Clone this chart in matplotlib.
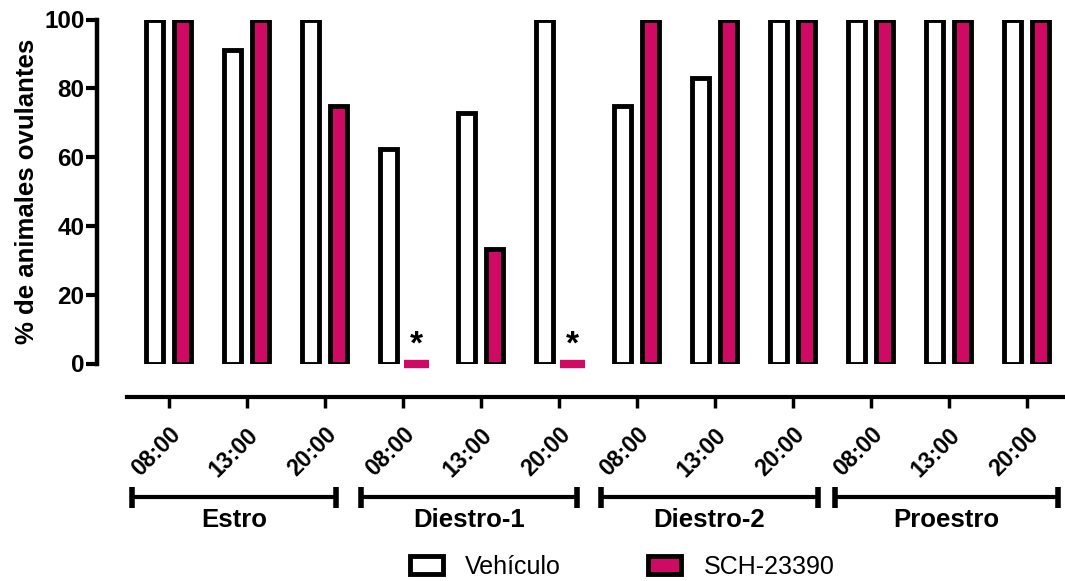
import matplotlib.pyplot as plt
import matplotlib.transforms as mtransforms
from matplotlib.patches import Patch
import numpy as np

plt.rcParams["font.family"] = ["Liberation Sans", "DejaVu Sans"]

stages = ["Estro", "Diestro-1", "Diestro-2", "Proestro"]
hours = ["08:00", "13:00", "20:00"]
vehiculo = [100, 91, 100, 62.5, 72.7, 100, 75, 83, 100, 100, 100, 100]
sch = [100, 100, 75, 0, 33.3, 0, 100, 100, 100, 100, 100, 100]
significant = [False, False, False, True, False, True,
               False, False, False, False, False, False]

pink = "#CE0A64"
lw = 3.5

fig = plt.figure(figsize=(10.65, 5.81), dpi=100)
ax = fig.add_axes([97 / 1065, 217.5 / 581, 968 / 1065, 344 / 581])

x = np.arange(len(vehiculo))
width = 0.22
off = 0.18

ax.bar(x - off, vehiculo, width, color="white", edgecolor="black",
       linewidth=lw, zorder=3)
sch_edges = [pink if v == 0 else "black" for v in sch]
ax.bar(x + off, sch, width, color=pink, edgecolor=sch_edges,
       linewidth=lw, zorder=3)

# zero-height bars show up as a flat coloured strip
for xi, v in zip(x, sch):
    if v == 0:
        ax.plot([xi + off - 0.16, xi + off + 0.16], [v, v], color=pink, lw=6,
                solid_capstyle="butt", zorder=4, clip_on=False)

for xi, v, sig in zip(x, sch, significant):
    if sig:
        ax.annotate("*", (xi + off, v), xytext=(0, 2), textcoords="offset points",
                    ha="center", va="bottom", fontsize=24, fontweight="bold")

ax.set_xlim(-0.92, 11.49)
ax.set_ylim(0, 100)

for s in ["top", "right"]:
    ax.spines[s].set_visible(False)
ax.spines["left"].set_linewidth(3.2)
ax.spines["bottom"].set_linewidth(3.0)
ax.spines["bottom"].set_position(("outward", 24))
ax.spines["bottom"].set_bounds(-0.53, 11.49)

ax.set_yticks([0, 20, 40, 60, 80, 100])
ax.tick_params(axis="y", length=8, width=3, pad=1, labelsize=17.5)
for t in ax.get_yticklabels():
    t.set_fontweight("bold")

ax.set_xticks(x)
ax.set_xticklabels(hours * len(stages), rotation=45, ha="right",
                   rotation_mode="anchor", fontsize=16.5, fontweight="bold")
ax.tick_params(axis="x", length=8, width=2.5, pad=11)

ax.set_ylabel("% de animales ovulantes", fontsize=18.5, fontweight="bold",
              labelpad=4)

# stage brackets under the time labels
trans = mtransforms.blended_transform_factory(ax.transData, fig.transFigure)
bracket_start = [-0.47, 2.46, 5.54, 8.54]
bracket_end = [2.14, 5.23, 8.32, 11.4]
y_line = (581 - 497) / 581
y_cap = 10.5 / 581
y_text = (581 - 520) / 581
for name, x0, x1 in zip(stages, bracket_start, bracket_end):
    ax.plot([x0, x1], [y_line, y_line], color="black", lw=3, transform=trans,
            clip_on=False, solid_capstyle="butt")
    for xe in (x0, x1):
        ax.plot([xe, xe], [y_line - y_cap, y_line + y_cap], color="black",
                lw=4, transform=trans, clip_on=False, solid_capstyle="butt")
    ax.text((x0 + x1) / 2, y_text, name, transform=trans, ha="center",
            va="center", fontsize=18.5, fontweight="bold")

handles = [Patch(facecolor="white", edgecolor="black", linewidth=lw),
           Patch(facecolor=pink, edgecolor="black", linewidth=lw)]
fig.legend(handles, ["Vehículo", "SCH-23390"], ncol=2, frameon=False,
           loc="center left", bbox_to_anchor=(410 / 1065, 14 / 581),
           fontsize=18, handlelength=1.3, handleheight=0.75,
           handletextpad=0.9, columnspacing=3.5, borderpad=0,
           borderaxespad=0)

fig.savefig("out.png", dpi=100)
